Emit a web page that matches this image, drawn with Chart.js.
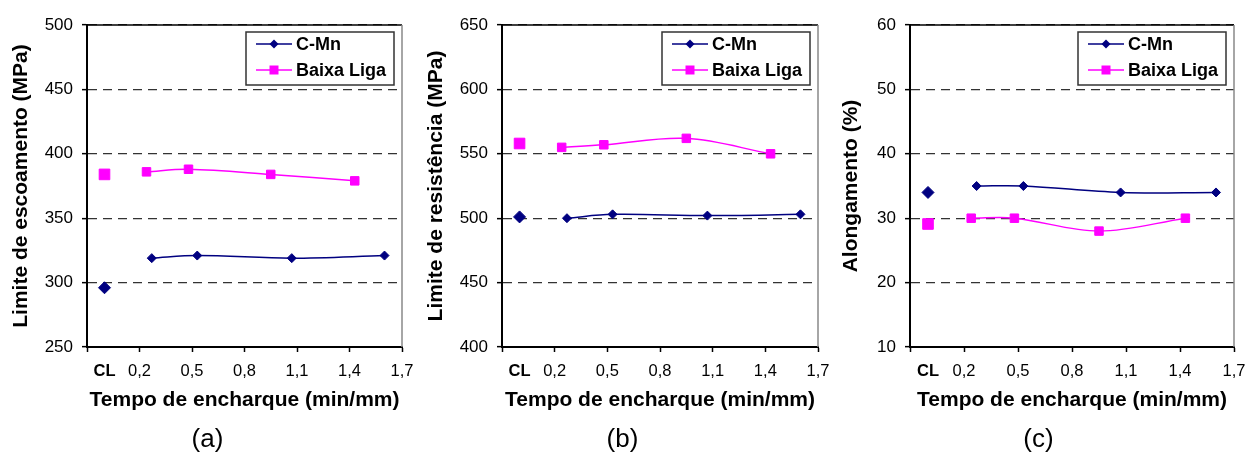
<!DOCTYPE html>
<html>
<head>
<meta charset="utf-8">
<script src="https://cdn.jsdelivr.net/npm/chart.js@4.4.1/dist/chart.umd.min.js"></script>
<style>
  body { margin: 0; background: #fff; width: 1247px; height: 453px; overflow: hidden; }
  .panel { position: absolute; top: 0; }
</style>
</head>
<body>
<div class="panel" style="left:0"><canvas id="chartA" width="415" height="453"></canvas></div>
<div class="panel" style="left:415px"><canvas id="chartB" width="415" height="453"></canvas></div>
<div class="panel" style="left:830px"><canvas id="chartC" width="417" height="453"></canvas></div>
<script>
"use strict";

// Tempo de encharque (min/mm); first point of each series is the CL condition
const xCL = 0;
const xCMn = [0.27, 0.53, 1.07, 1.60];
const xBaixaLiga = [0.24, 0.48, 0.95, 1.43];
const xTicks = [-0.1, 0, 0.2, 0.5, 0.8, 1.1, 1.4, 1.7];

// values: [CL, then one per x above]
const escoamentoCMn = [296, 319, 321, 319, 321];
const escoamentoBaixaLiga = [384, 386, 388, 384, 379];
const resistenciaCMn = [501, 500, 503, 502, 503];
const resistenciaBaixaLiga = [558, 555, 557, 562, 550];
const alongamentoCMn = [34, 35, 35, 34, 34];
const alongamentoBaixaLiga = [29.1, 30, 30, 28, 30];

const FONT = "'Liberation Sans', Arial, sans-serif";
Chart.defaults.font.family = FONT;
Chart.defaults.color = '#000';

const NAVY = '#000080';
const MAGENTA = '#ff00ff';

// CL point stands alone, then a gap, then the smoothed line
function points(xs, values) {
    const pts = [{x: xCL, y: values[0]}, {x: xCL, y: null}];
    xs.forEach((x, i) => pts.push({x: x, y: values[i + 1]}));
    return pts;
}

// Legend drawn as a framed box inside the plot area
const boxLegend = {
    id: 'boxLegend',
    afterDraw(chart) {
        const {ctx, chartArea} = chart;
        const w = 148, h = 53;
        const x0 = chartArea.right - 8 - w, y0 = chartArea.top + 7;
        ctx.save();
        ctx.fillStyle = '#fff';
        ctx.fillRect(x0, y0, w, h);
        ctx.strokeStyle = '#333';
        ctx.lineWidth = 1.5;
        ctx.strokeRect(x0, y0, w, h);
        chart.data.datasets.forEach((ds, i) => {
            const y = y0 + 12 + i * 26;
            ctx.strokeStyle = ds.borderColor;
            ctx.fillStyle = ds.borderColor;
            ctx.lineWidth = 1.5;
            ctx.beginPath();
            ctx.moveTo(x0 + 10, y);
            ctx.lineTo(x0 + 46, y);
            ctx.stroke();
            const mx = x0 + 28;
            ctx.beginPath();
            if (ds.pointStyle === 'rectRot') {
                ctx.moveTo(mx - 4.5, y);
                ctx.lineTo(mx, y - 4.5);
                ctx.lineTo(mx + 4.5, y);
                ctx.lineTo(mx, y + 4.5);
                ctx.closePath();
            } else {
                ctx.rect(mx - 4.5, y - 4.5, 9, 9);
            }
            ctx.fill();
            ctx.fillStyle = '#000';
            ctx.font = 'bold 18px ' + FONT;
            ctx.textBaseline = 'middle';
            ctx.textAlign = 'left';
            ctx.fillText(ds.label, x0 + 50, y + 1);
        });
        ctx.restore();
    }
};

// Top (black) and right (gray) edges of the plot frame
const frame = {
    id: 'frame',
    beforeDatasetsDraw(chart) {
        const {ctx, chartArea: a} = chart;
        ctx.save();
        ctx.lineWidth = 1.5;
        ctx.strokeStyle = '#000';
        ctx.beginPath();
        ctx.moveTo(a.left, a.top);
        ctx.lineTo(a.right, a.top);
        ctx.stroke();
        ctx.strokeStyle = '#888';
        ctx.beginPath();
        ctx.moveTo(a.right, a.top);
        ctx.lineTo(a.right, a.bottom);
        ctx.stroke();
        ctx.restore();
    }
};

function makeChart(id, cmn, baixa, yMin, yMax, yStep, yTitle, yWidth, letter, rightPad) {
    new Chart(document.getElementById(id), {
        type: 'line',
        data: {
            datasets: [
                {
                    label: 'C-Mn',
                    data: points(xCMn, cmn),
                    borderColor: NAVY,
                    backgroundColor: NAVY,
                    borderWidth: 1.5,
                    pointStyle: 'rectRot',
                    pointRadius: ctx => ctx.dataIndex === 0 ? 6 : 4.5,
                    pointBorderWidth: 1,
                    tension: 0.35,
                    spanGaps: false
                },
                {
                    label: 'Baixa Liga',
                    data: points(xBaixaLiga, baixa),
                    borderColor: MAGENTA,
                    backgroundColor: MAGENTA,
                    borderWidth: 1.5,
                    pointStyle: 'rect',
                    pointRadius: ctx => ctx.dataIndex === 0 ? 7.5 : 6,
                    pointBorderWidth: 1,
                    tension: 0.35,
                    spanGaps: false
                }
            ]
        },
        options: {
            responsive: false,
            animation: false,
            layout: {
                padding: {top: 25, right: 0, left: 0, bottom: 0}
            },
            scales: {
                x: {
                    type: 'linear',
                    min: -0.1,
                    max: 1.7,
                    afterBuildTicks: scale => {
                        scale.ticks = xTicks.map(v => ({value: v}));
                    },
                    afterFit: scale => {
                        scale.height = 67;
                        scale.paddingLeft = 0;
                        scale.paddingRight = rightPad;
                    },
                    ticks: {
                        autoSkip: false,
                        maxRotation: 0,
                        padding: 10,
                        color: '#000',
                        font: ctx => ({
                            size: 16.5,
                            weight: ctx.tick && ctx.tick.value === 0 ? 'bold' : 'normal'
                        }),
                        callback: v => v === 0 ? 'CL' : (v < 0 ? '' : v.toFixed(1).replace('.', ','))
                    },
                    grid: {
                        drawOnChartArea: false,
                        tickLength: 5,
                        tickWidth: 1.5,
                        tickColor: ctx => ctx.tick && ctx.tick.value === 0 ? 'rgba(0,0,0,0)' : '#000'
                    },
                    border: {color: '#000', width: 2},
                    title: {
                        display: true,
                        text: 'Tempo de encharque (min/mm)',
                        font: {size: 21, weight: 'bold'},
                        padding: {top: 0, bottom: 1}
                    }
                },
                y: {
                    min: yMin,
                    max: yMax,
                    afterFit: scale => { scale.width = yWidth; },
                    ticks: {
                        stepSize: yStep,
                        padding: 9,
                        color: '#000',
                        font: {size: 17}
                    },
                    grid: {
                        color: '#333',
                        lineWidth: 1.3,
                        tickLength: 5,
                        tickWidth: 1.5,
                        tickColor: '#000'
                    },
                    border: {color: '#000', width: 2, dash: [9, 6]},
                    title: {
                        display: true,
                        text: yTitle,
                        font: {size: 21, weight: 'bold'},
                        padding: {top: 9, bottom: 0}
                    }
                }
            },
            plugins: {
                legend: {display: false},
                tooltip: {enabled: false},
                title: {
                    display: true,
                    position: 'bottom',
                    text: letter,
                    color: '#000',
                    font: {size: 26, weight: 'normal', lineHeight: 1},
                    padding: {top: 13, bottom: 0}
                }
            }
        },
        plugins: [frame, boxLegend]
    });
}

makeChart('chartA', escoamentoCMn, escoamentoBaixaLiga, 250, 500, 50,
    'Limite de escoamento (MPa)', 87, '(a)', 13);
makeChart('chartB', resistenciaCMn, resistenciaBaixaLiga, 400, 650, 50,
    'Limite de resistência (MPa)', 87, '(b)', 12);
makeChart('chartC', alongamentoCMn, alongamentoBaixaLiga, 10, 60, 10,
    'Alongamento (%)', 80, '(c)', 13);
</script>
</body>
</html>
